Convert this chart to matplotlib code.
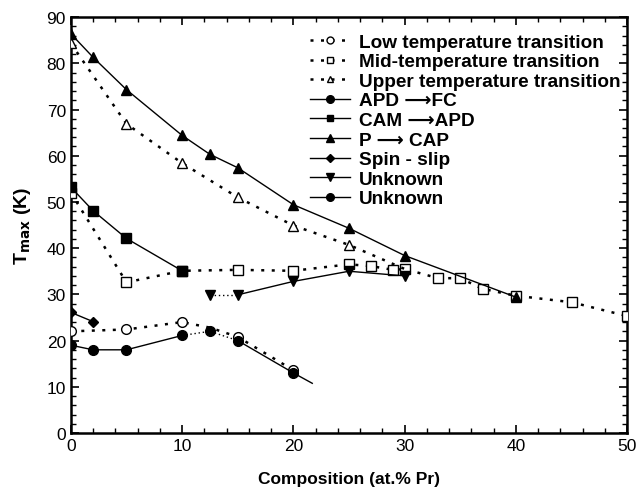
import matplotlib
matplotlib.use("Agg")
import matplotlib.pyplot as plt
from matplotlib.ticker import MultipleLocator
from matplotlib.lines import Line2D

plt.rcParams['font.family'] = ['Liberation Sans', 'DejaVu Sans']

# Low temperature transition (open circles, dotted)
low_x = [0, 5, 10, 12.5, 15, 20]
low_y = [22.0, 22.4, 24.0, 22.8, 20.8, 13.6]
low_mk = [0, 1, 2, 4, 5]
# Mid temperature transition (open squares, dotted)
mid_x = [0, 5, 10, 15, 20, 25, 27, 29, 30, 33, 35, 37, 40, 45, 50]
mid_y = [52.0, 32.6, 35.1, 35.3, 35.1, 36.5, 36.1, 35.3, 35.5, 33.5, 33.5, 31.2, 29.7, 28.3, 25.3]
# Upper temperature transition (open triangles, dotted)
up_x = [0, 5, 10, 15, 20, 25, 30]
up_y = [84.3, 66.9, 58.4, 51.0, 44.9, 40.7, 35.5]
# APD -> FC
apd_x = [0, 2, 5, 10]
apd_y = [19.0, 18.0, 18.0, 21.1]
# CAM -> APD
cam_x = [0, 2, 5, 10]
cam_y = [53.2, 48.1, 42.1, 35.1]
# P -> CAP
p_x = [0, 2, 5, 10, 12.5, 15, 20, 25, 30, 40]
p_y = [86.4, 81.3, 74.3, 64.4, 60.3, 57.4, 49.4, 44.3, 38.4, 29.4]
# Spin-slip
spin_x = [0, 2]
spin_y = [26.1, 24.1]
# Unknown (down triangles)
unk1_x = [12.5, 15, 20, 25, 30]
unk1_y = [29.9, 29.9, 32.8, 35.0, 34.0]
# Unknown (filled circles)
unk2_x = [12.5, 15, 20]
unk2_y = [22.0, 20.0, 13.0]
unk2_line_x = [15, 20, 21.7]
unk2_line_y = [20.0, 13.0, 10.75]

labels = ['Low temperature transition', 'Mid-temperature transition',
          'Upper temperature transition', 'APD \u27f6FC', 'CAM \u27f6APD',
          'P \u27f6 CAP', 'Spin - slip', 'Unknown', 'Unknown']

fig = plt.figure(figsize=(6.38, 4.89), dpi=100)
ax = fig.add_axes([0.111, 0.1125, 0.872, 0.8505])

dot = (0, (1.2, 3.0))
ms = 7
# dotted transitions
ax.plot(low_x, low_y, linestyle=dot, color='k', lw=1.8, marker='o',
        mfc='white', mec='k', ms=ms, markevery=low_mk, zorder=3)
ax.plot(mid_x, mid_y, linestyle=dot, color='k', lw=1.8, marker='s',
        mfc='white', mec='k', ms=ms-0.5, zorder=3)
ax.plot(up_x, up_y, linestyle=dot, color='k', lw=1.8, marker='^',
        mfc='white', mec='k', ms=ms, markevery=[0, 1, 2, 3, 4, 5], zorder=3)

# solid transitions
ax.plot(apd_x, apd_y, '-', color='k', lw=1, marker='o', ms=ms, zorder=4)
ax.plot(cam_x, cam_y, '-', color='k', lw=1, marker='s', ms=ms-0.5, zorder=4)
ax.plot(p_x, p_y, '-', color='k', lw=1, marker='^', ms=ms, zorder=4)
ax.plot(spin_x, spin_y, '-', color='k', lw=1, marker='D', ms=ms-1.5, zorder=4)
ax.plot(unk1_x[:2], unk1_y[:2], linestyle=(0, (1, 2)), color='k', lw=1, zorder=4)
ax.plot(unk1_x[1:], unk1_y[1:], '-', color='k', lw=1, zorder=4)
ax.plot(unk1_x, unk1_y, 'v', color='k', ms=ms, zorder=4)
ax.plot([apd_x[-1]] + unk2_x[:2], [apd_y[-1]] + unk2_y[:2], linestyle=(0, (1, 2)),
        color='k', lw=1, zorder=4)
ax.plot(unk2_line_x, unk2_line_y, '-', color='k', lw=1, zorder=4)
ax.plot(unk2_x, unk2_y, 'o', color='k', ms=ms, zorder=4)

ax.set_xlim(0, 50)
ax.set_ylim(0, 90)
ax.xaxis.set_major_locator(MultipleLocator(10))
ax.xaxis.set_minor_locator(MultipleLocator(2))
ax.yaxis.set_major_locator(MultipleLocator(10))
ax.yaxis.set_minor_locator(MultipleLocator(2))
ax.tick_params(which='both', direction='in', top=True, right=True, labelsize=12.5)
ax.tick_params(which='major', length=6, width=1.2)
ax.tick_params(which='minor', length=3.5, width=1)
for s in ax.spines.values():
    s.set_linewidth(1.8)

ax.set_xlabel('Composition (at.% Pr)', fontsize=12.5, fontweight='bold', labelpad=13)
ax.set_ylabel(r'T$_{\mathbf{max}}$ (K)', fontsize=14, fontweight='bold', labelpad=10)

h = [
    Line2D([], [], linestyle=dot, color='k', lw=1.8, marker='o', mfc='white', mec='k', ms=5),
    Line2D([], [], linestyle=dot, color='k', lw=1.8, marker='s', mfc='white', mec='k', ms=4.5),
    Line2D([], [], linestyle=dot, color='k', lw=1.8, marker='^', mfc='white', mec='k', ms=5),
    Line2D([], [], linestyle='-', color='k', lw=1, marker='o', ms=5.5),
    Line2D([], [], linestyle='-', color='k', lw=1, marker='s', ms=5),
    Line2D([], [], linestyle='-', color='k', lw=1, marker='^', ms=5.5),
    Line2D([], [], linestyle='-', color='k', lw=1, marker='D', ms=4.5),
    Line2D([], [], linestyle='-', color='k', lw=1, marker='v', ms=5.5),
    Line2D([], [], linestyle='-', color='k', lw=1, marker='o', ms=5.5),
]
leg = ax.legend(h, labels, loc='upper right', bbox_to_anchor=(1.012, 0.993),
                frameon=False, prop={'weight': 'bold', 'size': 13.7},
                handlelength=2.1, handletextpad=0.45, labelspacing=0.12,
                borderpad=0.2)

fig.savefig('out.png', dpi=100)
